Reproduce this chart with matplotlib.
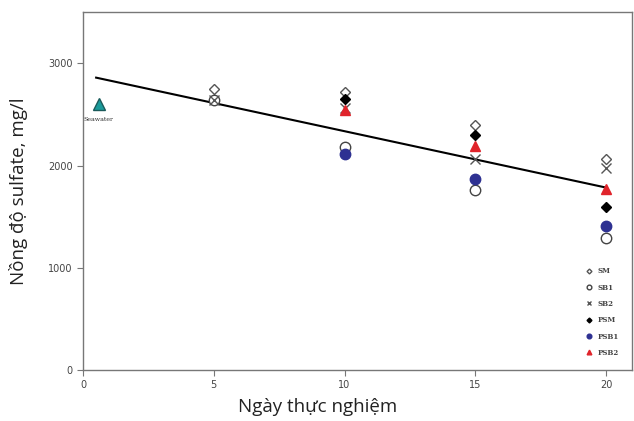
import matplotlib
matplotlib.use("Agg")
import matplotlib.pyplot as plt

# data
days = [5, 10, 15, 20]
sm = [2750, 2720, 2400, 2060]
sb1 = [2640, 2180, 1765, 1295]
sb2 = [2640, 2560, 2060, 1975]
psm = [None, 2650, 2300, 1590]
psb1 = [None, 2115, 1870, 1410]
psb2 = [None, 2545, 2190, 1775]
seawater_x = [0.6]
seawater_y = [2605]
trend_x = [0.5, 20]
trend_y = [2860, 1785]

series = [
	("SM", days, sm, dict(marker="D", mfc="white", mec="#555555", ms=5.5)),
	("SB1", days, sb1, dict(marker="o", mfc="white", mec="#444444", ms=7.5)),
	("SB2", days, sb2, dict(marker="x", mfc="none", mec="#555555", ms=7)),
	("PSM", days[1:], psm[1:], dict(marker="D", mfc="black", mec="black", ms=5.5)),
	("PSB1", days[1:], psb1[1:], dict(marker="o", mfc="#2e3192", mec="#2e3192", ms=7.5)),
	("PSB2", days[1:], psb2[1:], dict(marker="^", mfc="#e0242b", mec="#e0242b", ms=7.5)),
]

fig = plt.figure(figsize=(6.34, 4.21), dpi=100)
ax = fig.add_axes([0.131, 0.121, 0.866, 0.850])

ax.plot(trend_x, trend_y, color="black", lw=1.5, zorder=2)

handles = []
for name, xs, ys, st in series:
	h, = ax.plot(xs, ys, ls="none", mew=1.0, zorder=3, label=name, **st)
	handles.append(h)

ax.plot(seawater_x, seawater_y, ls="none", marker="^", ms=8, mfc="#1a9a9a", mec="#1a5a5a", zorder=3)
ax.text(seawater_x[0], seawater_y[0] - 130, "Seawater", family="DejaVu Serif", fontsize=4.5,
	ha="center", va="top", color="#333333")

ax.set_xlim(0, 21)
ax.set_ylim(0, 3500)
ax.set_xticks([0, 5, 10, 15, 20])
ax.set_yticks([0, 1000, 2000, 3000])
for sp in ax.spines.values():
	sp.set_color("#777777")
	sp.set_linewidth(1.0)
ax.tick_params(direction="out", length=4, color="#777777", labelsize=7, labelcolor="#444444")

ax.set_xlabel("Ngày thực nghiệm", fontsize=13.5, family="Open Sans", color="#222222")
ax.xaxis.set_label_coords(0.428, -0.078)
ax.set_ylabel("Nồng độ sulfate, mg/l", fontsize=13.5, family="Open Sans", color="#222222")
ax.yaxis.set_label_coords(-0.1, 0.5)

leg = ax.legend(handles=handles, loc="lower right", frameon=False, markerscale=0.45,
	prop={"family": "DejaVu Serif", "size": 5, "weight": "bold"}, handlelength=1.0, labelspacing=1.2,
	borderaxespad=1.5)
for t in leg.get_texts():
	t.set_color("#444444")

fig.savefig("out.png", dpi=100)
